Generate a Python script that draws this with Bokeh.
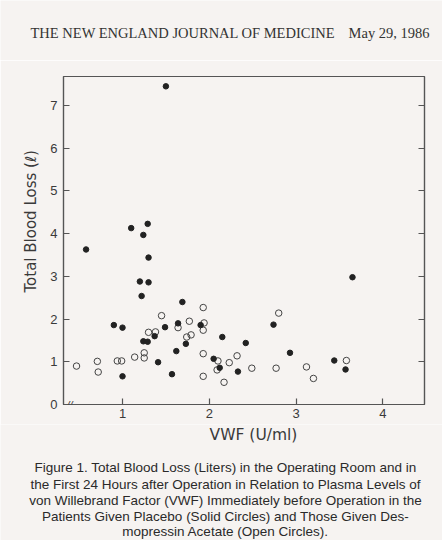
from bokeh.plotting import figure
from bokeh.layouts import column
from bokeh.models import Range1d, LinearAxis, FixedTicker, Label, Title
from bokeh.core.properties import value
from bokeh.embed import file_html
from bokeh.resources import INLINE

# ---- data ----
placebo_vwf = [0.58, 1.10, 1.29, 1.24, 1.30, 1.50, 1.20, 1.30, 1.22, 1.69,
               0.90, 1.00, 1.00, 1.24, 1.29, 1.37, 1.41, 1.49, 1.64, 1.62,
               1.57, 1.73, 1.90, 2.05, 2.12, 2.15, 2.33, 2.42, 2.74, 2.93,
               3.44, 3.57, 3.65]
placebo_loss = [3.63, 4.13, 4.23, 3.97, 3.44, 7.45, 2.88, 2.86, 2.54, 2.40,
                1.86, 1.80, 0.66, 1.48, 1.47, 1.60, 0.99, 1.81, 1.90, 1.25,
                0.71, 1.42, 1.86, 1.07, 0.86, 1.58, 0.77, 1.44, 1.87, 1.21,
                1.03, 0.82, 2.98]
ddavp_vwf = [0.47, 0.71, 0.72, 0.94, 0.99, 1.14, 1.25, 1.25, 1.30, 1.38,
             1.45, 1.64, 1.74, 1.79, 1.77, 1.93, 1.94, 1.93, 1.93, 1.93,
             2.10, 2.09, 2.23, 2.32, 2.49, 2.17, 2.80, 2.77, 3.12, 3.20,
             3.58]
ddavp_loss = [0.90, 1.01, 0.76, 1.02, 1.02, 1.11, 1.21, 1.09, 1.69, 1.70,
              2.08, 1.80, 1.58, 1.63, 1.95, 2.27, 1.91, 1.74, 1.19, 0.66,
              1.02, 0.81, 0.98, 1.14, 0.85, 0.52, 2.14, 0.85, 0.88, 0.61,
              1.03]
x_ticks = [1, 2, 3, 4]
y_ticks = [0, 1, 2, 3, 4, 5, 6, 7]
right_ticks = [1, 2, 3, 4, 5, 6, 7]

header_left = "THE NEW ENGLAND JOURNAL OF MEDICINE"
header_right = "May 29, 1986"
y_label = "Total Blood Loss (\u2113)"
x_label = "VWF (U/ml)"
caption = [
    "Figure 1. Total Blood Loss (Liters) in the Operating Room and in",
    "the First 24 Hours after Operation in Relation to Plasma Levels of",
    "von Willebrand Factor (VWF) Immediately before Operation in the",
    "Patients Given Placebo (Solid Circles) and Those Given Des-",
    "mopressin Acetate (Open Circles).",
]

# ---- layout (page pixels) ----
W, H = 442, 540
HEAD_H = 60          # header strip: y 0..60
MAIN_TOP, MAIN_BOT = 60, 424
L, R, T, B = 63, 424, 76, 404   # plot frame in page pixels
X0, X1 = 0.32, 4.48
Y0, Y1 = 0.0, 7.68

INK = "#3a3a3a"
AX = "#555555"
PAPER = "#f6f3f1"


def blank_fig(h):
    f = figure(width=W, height=h, x_range=Range1d(0, W), y_range=Range1d(h, 0),
               output_backend="svg", toolbar_location=None, frame_align=False,
               min_border=0, min_border_left=0, min_border_right=0,
               min_border_top=0, min_border_bottom=0)
    f.axis.visible = False
    f.grid.visible = False
    f.outline_line_color = None
    f.background_fill_color = PAPER
    f.border_fill_color = PAPER
    return f


# header
head = blank_fig(HEAD_H)
head.text(x=[30], y=[32], text=[header_left], text_align="left",
          text_baseline="middle", text_font=value("Liberation Serif"),
          text_font_size="14.5px", text_color="#333333")
head.text(x=[429], y=[32], text=[header_right], text_align="right",
          text_baseline="middle", text_font=value("Liberation Serif"),
          text_font_size="14.5px", text_color="#333333")

# main plot
main_h = MAIN_BOT - MAIN_TOP
p = figure(width=W, height=main_h, x_range=Range1d(X0, X1), y_range=Range1d(Y0, Y1),
           output_backend="svg", toolbar_location=None, frame_align=False,
           min_border_left=L, min_border_right=W - R,
           min_border_top=T - MAIN_TOP, min_border_bottom=MAIN_BOT - B)
p.background_fill_color = PAPER
p.border_fill_color = PAPER
p.outline_line_color = AX
p.outline_line_width = 1.2
p.xgrid.visible = False
p.ygrid.visible = False

for ax in (p.xaxis[0], p.yaxis[0]):
    ax.axis_line_color = AX
    ax.axis_line_width = 1.2
    ax.major_tick_line_color = AX
    ax.major_tick_line_width = 1.2
    ax.major_tick_in = 6
    ax.major_tick_out = 0
    ax.minor_tick_line_color = None
    ax.major_label_text_font = "Liberation Sans"
    ax.major_label_text_font_size = "13px"
    ax.major_label_text_color = INK
p.xaxis.major_label_standoff = 4
p.yaxis.major_label_standoff = 6
p.xaxis.ticker = FixedTicker(ticks=x_ticks)
p.yaxis.ticker = FixedTicker(ticks=y_ticks)

rax = LinearAxis(ticker=FixedTicker(ticks=right_ticks),
                 major_label_overrides={t: "" for t in right_ticks})
rax.axis_line_color = AX
rax.axis_line_width = 1.2
rax.major_tick_line_color = AX
rax.major_tick_line_width = 1.2
rax.major_tick_in = 6
rax.major_tick_out = 0
rax.minor_tick_line_color = None
rax.major_label_standoff = 0
p.add_layout(rax, "right")

# y axis title on the left, shifted up like the original
p.add_layout(Title(text=y_label, align="left", offset=(B - 292),
                   text_font="DejaVu Sans", text_font_size="15px",
                   text_font_style="normal", text_color=INK, standoff=15), "left")

# data marks
p.scatter(ddavp_vwf, ddavp_loss, marker="circle", size=6.5,
          fill_color=None, line_color="#444444", line_width=1)
p.scatter(placebo_vwf, placebo_loss, marker="circle", size=5.5,
          fill_color="#222222", line_color="#222222")

# axis break mark
brk_x = X0 + (69 - L) / (R - L) * (X1 - X0)
p.add_layout(Label(x=brk_x, y=0, text="//", text_align="center",
                   text_baseline="middle", text_font="Liberation Sans",
                   text_font_size="11px", text_color=INK, text_font_style="italic"))

# bottom strip: x-axis title and caption
bot_h = H - MAIN_BOT
cap = blank_fig(bot_h)
cap.text(x=[253], y=[434 - MAIN_BOT], text=[x_label], text_align="center",
         text_baseline="middle", text_font=value("DejaVu Sans"),
         text_font_size="15.5px", text_color=INK)
cap_y = [467, 483.5, 500, 516, 531]
cap.text(x=[225] * len(caption), y=[yy - MAIN_BOT for yy in cap_y], text=caption,
         text_align="center", text_baseline="middle",
         text_font=value("Liberation Sans"), text_font_size="13.5px",
         text_color="#2a2a2a")

layout = column(head, p, cap, spacing=0)
open("out.html", "w").write(file_html(layout, INLINE))
